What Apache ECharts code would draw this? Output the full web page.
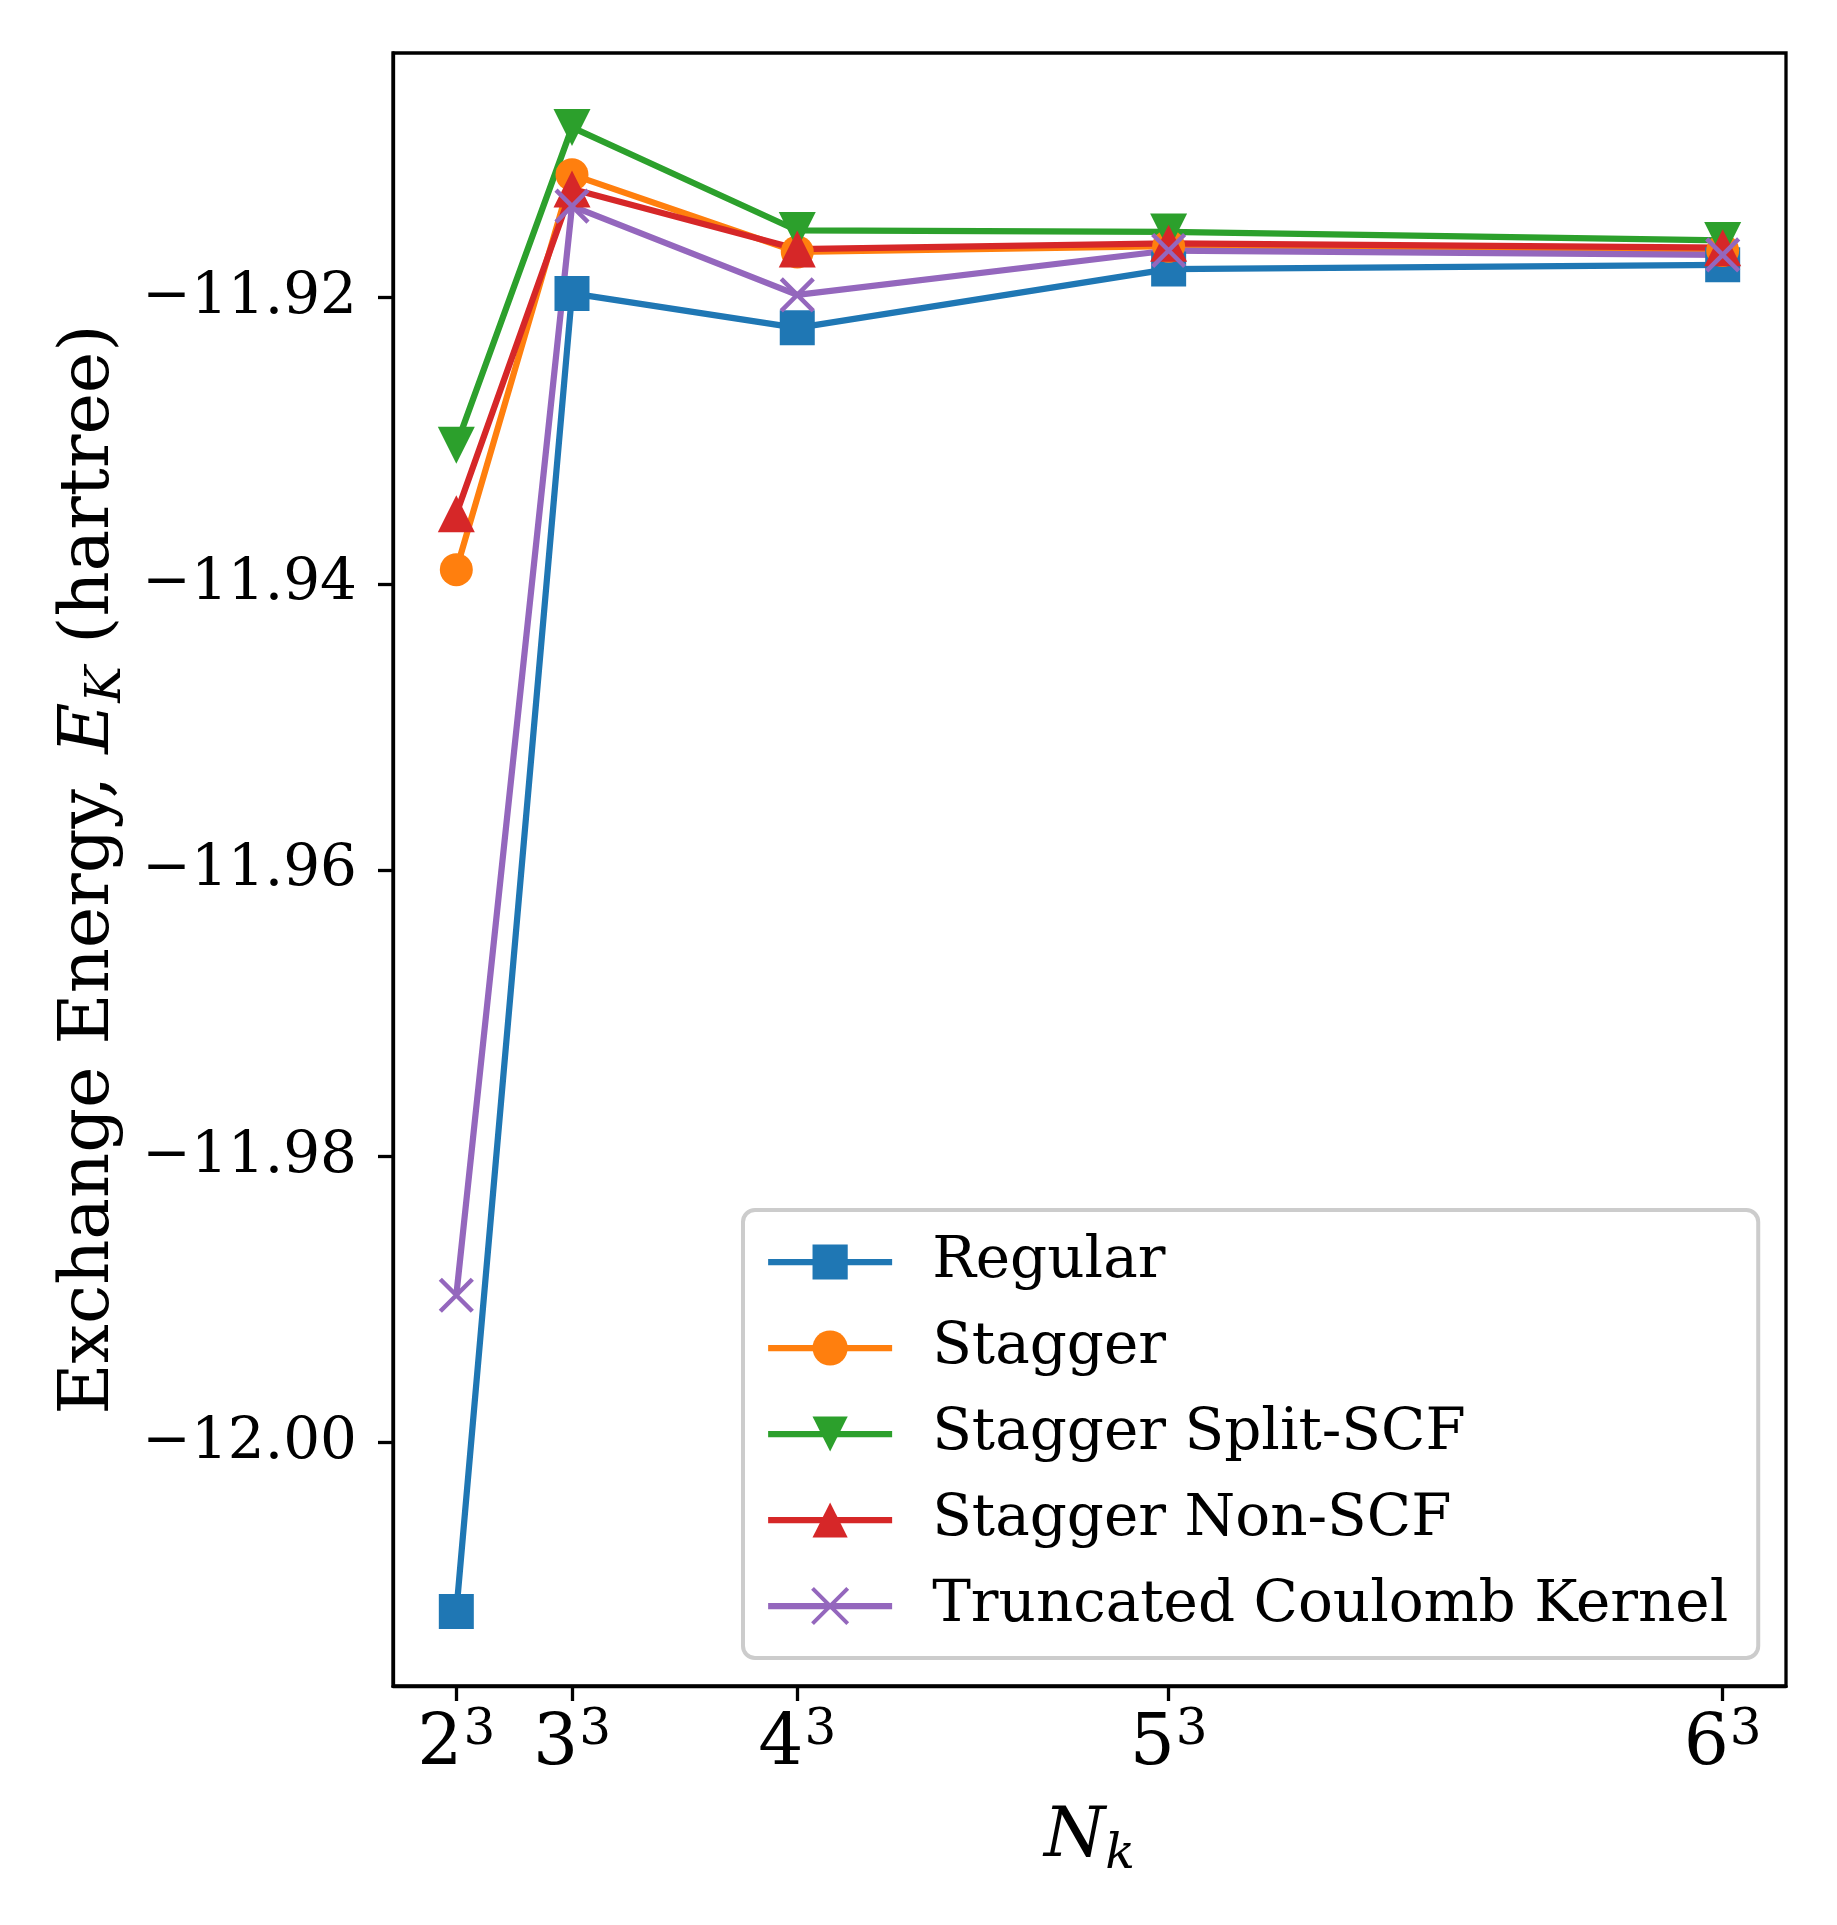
<!DOCTYPE html>
<html>
<head>
<meta charset="utf-8">
<script src="https://cdn.jsdelivr.net/npm/echarts@6/dist/echarts.min.js"></script>
<style>
html,body{margin:0;padding:0;background:#fff;}
#chart{width:1837px;height:1925px;}
</style>
</head>
<body>
<div id="chart"></div>
<script>
const nk = [8, 27, 64, 125, 216];
const xTickBases = ['2', '3', '4', '5', '6'];
const xTickExp = '3';
const yTicks = [-12.00, -11.98, -11.96, -11.94, -11.92];

const regular  = [-12.0118, -11.9197, -11.9221, -11.9180, -11.9177];
const stagger  = [-11.9390, -11.9114, -11.9168, -11.9164, -11.9167];
const splitScf = [-11.9303, -11.9081, -11.9153, -11.9154, -11.9160];
const nonScf   = [-11.9351, -11.9124, -11.9166, -11.9162, -11.9165];
const tck      = [-11.9897, -11.9136, -11.9198, -11.9167, -11.9170];

const names = ['Regular', 'Stagger', 'Stagger Split-SCF', 'Stagger Non-SCF', 'Truncated Coulomb Kernel'];
const colors = ['#1f77b4', '#ff7f0e', '#2ca02c', '#d62728', '#9467bd'];

const FONT = 'DejaVu Serif';
function pts(arr) { return nk.map((x, i) => [x, arr[i]]); }

function mk(name, arr, color, symbol, size, rotate, extra) {
  return Object.assign({
    name: name,
    type: 'line',
    data: pts(arr),
    symbol: symbol,
    symbolSize: size,
    symbolRotate: rotate,
    showAllSymbol: true,
    lineStyle: { color: color, width: 6.25 },
    itemStyle: { color: color, borderColor: color, borderWidth: 0 },
    emphasis: { disabled: true },
    animation: false
  }, extra || {});
}

const chart = echarts.init(document.getElementById('chart'), null, { renderer: 'canvas' });
chart.setOption({
  backgroundColor: '#fff',
  animation: false,
  grid: { left: 393, right: 51, top: 53, bottom: 239, show: true, borderColor: '#000', borderWidth: 3.3, backgroundColor: 'transparent' },
  xAxis: {
    type: 'value', min: -2.4, max: 226.4,
    axisLine: { show: true, onZero: false, lineStyle: { color: '#000', width: 3.3 } },
    axisTick: { show: true, length: 15, lineStyle: { color: '#000', width: 3.3 }, customValues: nk },
    splitLine: { show: false },
    axisLabel: {
      customValues: nk, margin: 20,
      formatter: function (v) { const i = nk.indexOf(v); return '{b|' + xTickBases[i] + '}{s|' + xTickExp + '}'; },
      rich: {
        b: { fontFamily: FONT, fontSize: 71, color: '#000', lineHeight: 80, verticalAlign: 'middle' },
        s: { fontFamily: FONT, fontSize: 50, color: '#000', lineHeight: 44, verticalAlign: 'top', padding: [0, 0, 0, 1] }
      }
    },
    name: '{i|N}{sub|k}', nameLocation: 'middle', nameGap: 110,
    nameTextStyle: {
      rich: {
        i: { fontFamily: FONT, fontStyle: 'italic', fontSize: 70, color: '#000', lineHeight: 84, verticalAlign: 'middle' },
        sub: { fontFamily: FONT, fontStyle: 'italic', fontSize: 49, color: '#000', lineHeight: 49, verticalAlign: 'bottom' }
      }
    }
  },
  yAxis: {
    type: 'value', min: -12.0170, max: -11.9029,
    axisLine: { show: true, onZero: false, lineStyle: { color: '#000', width: 3.3 } },
    axisTick: { show: true, length: 15, lineStyle: { color: '#000', width: 3.3 }, customValues: yTicks },
    splitLine: { show: false },
    axisLabel: {
      customValues: yTicks, margin: 36,
      fontFamily: FONT, fontSize: 58, color: '#000',
      formatter: function (v) { return (v < 0 ? '\u2212' : '') + Math.abs(v).toFixed(2); }
    },
    name: '{t|Exchange Energy, }{i|E}{sub|K}{t| (hartree)}', nameLocation: 'middle', nameGap: 260, nameRotate: 90,
    nameTextStyle: {
      rich: {
        t: { fontFamily: FONT, fontSize: 70, color: '#000', lineHeight: 84, verticalAlign: 'middle' },
        i: { fontFamily: FONT, fontStyle: 'italic', fontSize: 70, color: '#000', lineHeight: 84, verticalAlign: 'middle' },
        sub: { fontFamily: FONT, fontStyle: 'italic', fontSize: 49, color: '#000', lineHeight: 49, verticalAlign: 'bottom' }
      }
    }
  },
  legend: {
    orient: 'vertical', left: 743, top: 1210,
    backgroundColor: 'rgba(255,255,255,0.8)', borderColor: '#cccccc', borderWidth: 4, borderRadius: 12,
    padding: [23, 30, 23, 22],
    itemWidth: 124, itemHeight: 44, itemGap: 28,
    lineStyle: { width: 6.25 },
    textStyle: { fontFamily: FONT, fontSize: 58, color: '#000', padding: [0, 0, 0, 35] },
    data: [
      { name: names[0] }, { name: names[1] }, { name: names[2] }, { name: names[3] },
      { name: names[4], itemStyle: { borderWidth: 4, borderColor: colors[4] } }
    ]
  },
  series: [
    mk(names[0], regular, colors[0], 'rect', 35, 0),
    mk(names[1], stagger, colors[1], 'circle', 33, 0),
    mk(names[2], splitScf, colors[2], 'triangle', 37, 180),
    mk(names[3], nonScf, colors[3], 'triangle', 37, 0),
    mk(names[4], tck, colors[4], 'path://M0,0L10,10M10,0L0,10', 32, 0,
       { itemStyle: { color: colors[4], borderColor: colors[4], borderWidth: 4.5 } })
  ]
});
</script>
</body>
</html>
